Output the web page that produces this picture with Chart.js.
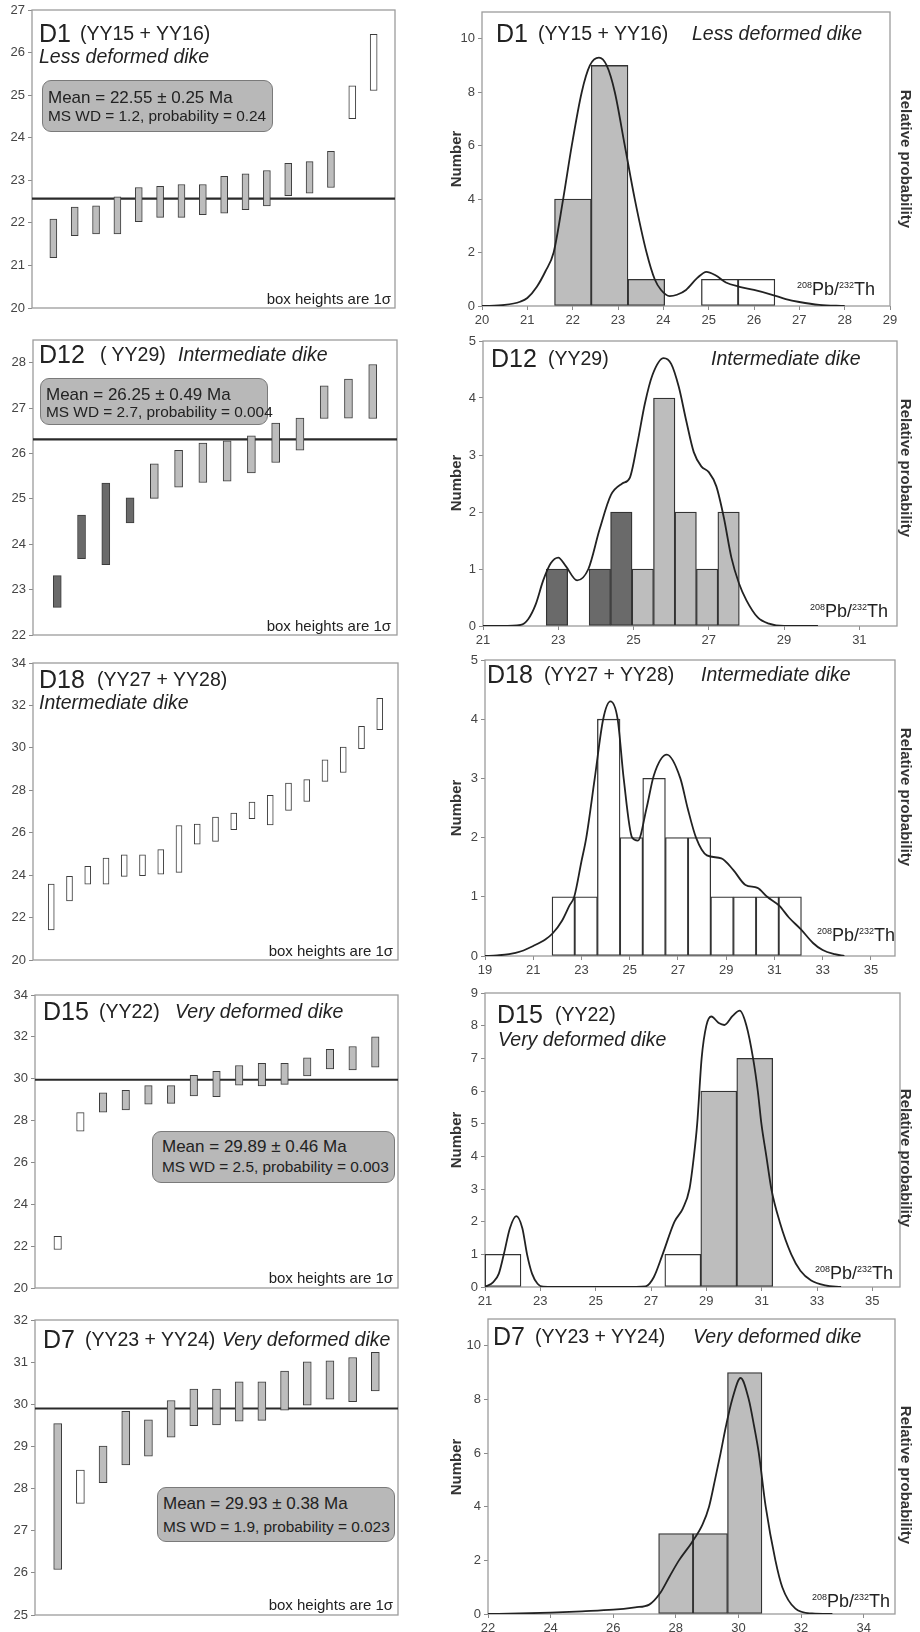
<!DOCTYPE html>
<html>
<head>
<meta charset="utf-8">
<script src="https://cdn.jsdelivr.net/npm/chart.js@4.4.1/dist/chart.umd.min.js"></script>
<style>
  body { margin: 0; background: #fff; }
  #page { position: relative; width: 920px; height: 1632px; overflow: hidden;
          font-family: "Liberation Sans", Arial, sans-serif; color: #222; }
  canvas { position: absolute; }
  .t { position: absolute; white-space: nowrap; line-height: 1; }
  .box { position: absolute; background: #b8b8b8; border: 1.5px solid #7a7a7a; border-radius: 9px; box-sizing: border-box; }
  .rot { position: absolute; white-space: nowrap; line-height: 1; font-weight: bold; font-size: 15px; color: #333; }
  sup { font-size: 0.5em; vertical-align: 0; position: relative; top: -0.8em; }
</style>
</head>
<body>
<div id="page"></div>
<script>
// ---------- left column: 1-sigma age boxes (Ma), sorted ----------
const d1Ages = [[21.18,22.09],[21.7,22.37],[21.74,22.4],[21.74,22.61],[22.03,22.83],[22.13,22.86],[22.13,22.9],[22.19,22.9],
                [22.23,23.09],[22.31,23.15],[22.4,23.23],[22.64,23.4],[22.7,23.44],[22.83,23.68],[24.45,25.22],[25.11,26.43]];
const d1Fill = ['g','g','g','g','g','g','g','g','g','g','g','g','g','g','w','w'];
const d1Mean = 22.57;
const d1YTicks = [20,21,22,23,24,25,26,27];

const d12Ages = [[22.61,23.31],[23.68,24.64],[23.55,25.35],[24.47,25.02],[25.01,25.77],[25.26,26.07],[25.36,26.23],
                 [25.39,26.28],[25.57,26.39],[25.8,26.67],[26.07,26.78],[26.77,27.49],[26.78,27.64],[26.77,27.96]];
const d12Fill = ['d','d','d','d','g','g','g','g','g','g','g','g','g','g'];
const d12Mean = 26.31;
const d12YTicks = [22,23,24,25,26,27,28];

const d18Ages = [[21.42,23.58],[22.79,23.94],[23.58,24.41],[23.58,24.8],[23.94,24.96],[23.97,24.96],[24.05,25.2],[24.13,26.34],
                 [25.46,26.41],[25.59,26.74],[26.14,26.92],[26.66,27.44],[26.37,27.76],[27.05,28.34],[27.47,28.5],
                 [28.42,29.44],[28.84,30.04],[29.96,31.01],[30.86,32.33]];
const d18Fill = d18Ages.map(() => 'w');
const d18YTicks = [20,22,24,26,28,30,32,34];

const d15Ages = [[21.84,22.47],[27.49,28.38],[28.4,29.33],[28.51,29.45],[28.78,29.67],[28.82,29.67],[29.18,30.16],[29.14,30.35],
                 [29.69,30.63],[29.65,30.74],[29.73,30.74],[30.13,31.0],[30.47,31.41],[30.42,31.54],[30.55,32.0]];
const d15Fill = ['w','w','g','g','g','g','g','g','g','g','g','g','g','g','g'];
const d15Mean = 29.95;
const d15YTicks = [20,22,24,26,28,30,32,34];

const d7Ages = [[26.08,29.54],[27.65,28.44],[28.14,29.01],[28.56,29.83],[28.77,29.63],[29.22,30.09],[29.49,30.36],[29.51,30.36],
                [29.6,30.53],[29.62,30.53],[29.86,30.79],[29.98,31.01],[30.12,31.03],[30.06,31.11],[30.32,31.23]];
const d7Fill = ['g','w','g','g','g','g','g','g','g','g','g','g','g','g','g'];
const d7Mean = 29.9;
const d7YTicks = [25,26,27,28,29,30,31,32];

// ---------- right column: histograms (bin edges, counts) + probability curves ----------
const h1Edges = [21.6,22.41,23.22,24.03,24.84,25.65,26.46];
const h1Counts = [4,9,1,0,1,1];
const h1Fill = ['g','g','g','g','w','w'];
const h1CurveX = [20,20.5,20.84,21,21.21,21.4,21.58,21.79,21.98,22.2,22.38,22.58,22.75,22.93,23.15,23.37,23.63,23.81,23.95,
                  24.14,24.3,24.5,24.75,24.95,25.15,25.38,25.68,26,26.4,26.7,27,27.44,28];
const h1CurveY = [0,0.04,0.16,0.3,0.72,1.3,2,4,6,8,9,9.29,9,8,6,4,2,1,0.6,
                  0.37,0.42,0.6,1.05,1.28,1.15,0.88,0.72,0.6,0.42,0.26,0.15,0.04,0];
const h1XTicks = [20,21,22,23,24,25,26,27,28,29];
const h1YTicks = [0,2,4,6,8,10];

const h12Edges = [22.68,23.25,23.82,24.39,24.96,25.53,26.1,26.67,27.24,27.81];
const h12Counts = [1,0,1,2,1,4,2,1,2];
const h12Fill = ['d','d','d','d','g','g','g','g','g'];
const h12CurveX = [21,21.5,22,22.2,22.4,22.6,22.8,23,23.2,23.5,23.8,24.1,24.4,24.7,24.9,25.1,25.3,25.5,25.8,26,26.2,26.4,
                   26.6,26.8,27,27.2,27.4,27.6,27.8,28,28.3,28.6,29,29.9];
const h12CurveY = [0,0,0.02,0.12,0.38,0.8,1.1,1.2,1.05,0.8,1,1.7,2.3,2.5,2.6,3.2,3.9,4.4,4.7,4.6,4.2,3.6,
                   3.05,2.8,2.7,2.45,1.9,1.2,0.75,0.45,0.15,0.04,0,0];
const h12XTicks = [21,23,25,27,29,31];
const h12YTicks = [0,1,2,3,4,5];

const h18Edges = [21.78,22.72,23.66,24.6,25.54,26.48,27.42,28.36,29.3,30.24,31.18,32.12];
const h18Counts = [1,1,4,2,3,2,2,1,1,1,1];
const h18Fill = h18Counts.map(() => 'w');
const h18CurveX = [19,19.5,20,20.5,21,21.5,21.8,22.2,22.5,22.7,23,23.2,23.55,23.9,24.2,24.5,24.75,25.1,25.34,25.7,26,26.54,
                   27.1,27.4,27.75,28.2,28.8,29.3,29.8,30.3,30.7,31.2,31.6,32.1,32.6,33,33.5,33.9];
const h18CurveY = [0,0.01,0.03,0.08,0.17,0.28,0.38,0.6,0.85,1,1.6,2,3,4,4.3,4,3,2,1.95,2.5,3.05,3.4,
                   3,2.5,2,1.7,1.65,1.45,1.2,1.15,1,0.85,0.65,0.45,0.22,0.1,0.03,0];
const h18XTicks = [19,21,23,25,27,29,31,33,35];
const h18YTicks = [0,1,2,3,4,5];

const h15Edges = [21,22.3,23.6,24.9,26.2,27.5,28.8,30.1,31.4];
const h15Counts = [1,0,0,0,0,1,6,7];
const h15Fill = ['w','w','w','w','w','w','g','g'];
const h15CurveX = [21,21.3,21.5,21.68,21.9,22.13,22.35,22.52,22.7,22.9,23.1,24,25,26,26.8,27.1,27.42,27.85,28.15,28.39,28.55,
                   28.67,28.83,29,29.18,29.45,29.65,29.95,30.21,30.45,30.69,30.86,30.99,31.17,31.35,31.65,32.07,32.4,32.79,33.3,33.87];
const h15CurveY = [0,0.15,0.41,1,1.8,2.17,1.8,1,0.41,0.1,0.01,0,0,0,0.02,0.3,1,2,2.4,3,4,
                   5,7,8,8.28,8.08,8.02,8.3,8.46,8,7,6,5,4,3,2,1,0.5,0.2,0.05,0];
const h15XTicks = [21,23,25,27,29,31,33,35];
const h15YTicks = [0,1,2,3,4,5,6,7,8,9];

const h7Edges = [27.45,28.55,29.65,30.75];
const h7Counts = [3,3,9];
const h7Fill = ['g','g','g'];
const h7CurveX = [22,23,24,25,26,26.7,27.15,27.5,27.8,28.1,28.5,28.85,29.06,29.25,29.43,29.6,29.8,30.07,30.33,30.5,30.65,
                  30.87,31.18,31.4,31.82,32.35,33];
const h7CurveY = [0,0.02,0.05,0.1,0.16,0.25,0.35,0.78,1.4,2,2.65,3.33,4,5,6,7,8,8.8,8,7,6,
                  4,2,1,0.2,0.02,0];
const h7XTicks = [22,24,26,28,30,32,34];
const h7YTicks = [0,2,4,6,8,10];

// ---------- drawing ----------
const FILL = { g: '#bdbdbd', d: '#6a6a6a', w: '#ffffff' };
Chart.defaults.font.family = '"Liberation Sans", Arial, sans-serif';
Chart.defaults.color = '#444';
const page = document.getElementById('page');

const framePlugin = {
  id: 'frame',
  beforeDatasetsDraw(chart) {
    const { ctx, chartArea: a } = chart;
    ctx.save();
    ctx.strokeStyle = '#9c9c9c';
    ctx.lineWidth = 1.3;
    ctx.strokeRect(a.left, a.top, a.right - a.left, a.bottom - a.top);
    ctx.restore();
  }
};

function addCanvas(left, top, w, h) {
  const c = document.createElement('canvas');
  c.width = w; c.height = h;
  c.style.left = left + 'px'; c.style.top = top + 'px';
  c.style.width = w + 'px'; c.style.height = h + 'px';
  page.appendChild(c);
  return c;
}

function tickAxis(values, extra) {
  return Object.assign({
    offset: false,
    afterBuildTicks: s => { s.ticks = values.map(v => ({ value: v })); },
    ticks: { font: { size: 13 }, padding: 3, autoSkip: false, maxRotation: 0, color: '#444' },
    grid: { drawOnChartArea: false, tickLength: 4, color: '#8a8a8a', offset: false },
    border: { display: false }
  }, extra);
}

function ageChart(g, ages, fills, mean, yMin, yMax, yTicks, barW) {
  const pad = 12;
  const c = addCanvas(0, g.top - pad, 400, g.bottom - g.top + 2 * pad);
  const n = ages.length;
  const datasets = [{
    type: 'bar',
    data: ages.map((r, i) => ({ x: i + 1, y: r })),
    backgroundColor: fills.map(f => FILL[f]),
    borderColor: '#3c3c3c', borderWidth: 1, borderSkipped: false,
    barThickness: barW, order: 1
  }];
  if (mean != null) {
    datasets.push({
      type: 'line', data: [{ x: 0, y: mean }, { x: n + 1, y: mean }],
      borderColor: '#2a2a2a', borderWidth: 2.2, pointRadius: 0, order: 2
    });
  }
  new Chart(c, {
    type: 'bar',
    data: { datasets },
    options: {
      responsive: false, animation: false, events: [],
      layout: { padding: { top: pad, bottom: pad, left: 0, right: 400 - g.right } },
      plugins: { legend: { display: false }, tooltip: { enabled: false } },
      scales: {
        x: { type: 'linear', min: 0, max: n + 1, offset: false, display: false },
        y: tickAxis(yTicks, { min: yMin, max: yMax, afterFit: s => { s.width = g.left; } })
      }
    },
    plugins: [framePlugin]
  });
}

function histChart(g, edges, counts, fills, cx, cy, xMin, xMax, xTicks, yMax, yTicks) {
  const pad = 12, axisH = 22;
  const c = addCanvas(420, g.top - pad, 500, g.bottom - g.top + pad + axisH);
  new Chart(c, {
    type: 'bar',
    data: {
      datasets: [{
        type: 'line',
        data: cx.map((x, i) => ({ x, y: cy[i] })),
        borderColor: '#222', borderWidth: 1.8, pointRadius: 0,
        cubicInterpolationMode: 'monotone', order: 0
      }, {
        type: 'bar',
        data: counts.map((v, i) => ({ x: (edges[i] + edges[i + 1]) / 2, y: v > 0 ? v : null })),
        backgroundColor: fills.map(f => FILL[f]),
        borderColor: '#333', borderWidth: 1.3, borderSkipped: false,
        barPercentage: 1, categoryPercentage: 1, clip: false, order: 1
      }]
    },
    options: {
      responsive: false, animation: false, events: [],
      layout: { padding: { top: pad, bottom: 0, left: 0, right: 500 - (g.right - 420) } },
      plugins: { legend: { display: false }, tooltip: { enabled: false } },
      scales: {
        x: tickAxis(xTicks, { type: 'linear', min: xMin, max: xMax, afterFit: s => { s.height = axisH; } }),
        y: tickAxis(yTicks, { min: 0, max: yMax, afterFit: s => { s.width = g.left - 420; } })
      }
    },
    plugins: [framePlugin]
  });
}

function txt(html, x, base, size, extra) {
  const d = document.createElement('div');
  d.className = 't';
  d.innerHTML = html;
  d.style.left = x + 'px';
  d.style.top = (base - 0.85 * size) + 'px';
  d.style.fontSize = size + 'px';
  if (extra) Object.assign(d.style, extra);
  page.appendChild(d);
  return d;
}
function txtR(html, right, base, size, extra) {
  return txt(html, 0, base, size, Object.assign({ left: 'auto', right: (920 - right) + 'px' }, extra));
}
function rot(text, cx, cy, deg) {
  const d = document.createElement('div');
  d.className = 'rot';
  d.textContent = text;
  d.style.left = cx + 'px'; d.style.top = cy + 'px';
  d.style.transform = 'translate(-50%,-50%) rotate(' + deg + 'deg)';
  page.appendChild(d);
}
function meanBox(x1, y1, x2, y2, l1, l2, tx, b1, b2) {
  const d = document.createElement('div');
  d.className = 'box';
  Object.assign(d.style, { left: x1 + 'px', top: y1 + 'px', width: (x2 - x1) + 'px', height: (y2 - y1) + 'px' });
  page.appendChild(d);
  txt(l1, tx, b1, 17);
  txt(l2, tx, b2, 15.4);
}
const IT = { fontStyle: 'italic' };
const PB = '<sup>208</sup>Pb/<sup>232</sup>Th';
const SUB = 19.5, BIG = 25;

// left column
ageChart({ left: 32, right: 395, top: 10, bottom: 308 }, d1Ages, d1Fill, d1Mean, 20, 27, d1YTicks, 7);
ageChart({ left: 33, right: 397, top: 340, bottom: 635 }, d12Ages, d12Fill, d12Mean, 22, 28.5, d12YTicks, 8);
ageChart({ left: 33, right: 398, top: 663, bottom: 960 }, d18Ages, d18Fill, null, 20, 34, d18YTicks, 6);
ageChart({ left: 35, right: 398, top: 995, bottom: 1288 }, d15Ages, d15Fill, d15Mean, 20, 34, d15YTicks, 7.5);
ageChart({ left: 35, right: 398, top: 1320, bottom: 1615 }, d7Ages, d7Fill, d7Mean, 25, 32, d7YTicks, 8);

// right column
histChart({ left: 482, right: 890, top: 12, bottom: 306 }, h1Edges, h1Counts, h1Fill, h1CurveX, h1CurveY, 20, 29, h1XTicks, 11, h1YTicks);
histChart({ left: 483, right: 897, top: 341, bottom: 626 }, h12Edges, h12Counts, h12Fill, h12CurveX, h12CurveY, 21, 32, h12XTicks, 5, h12YTicks);
histChart({ left: 485, right: 895, top: 660, bottom: 956 }, h18Edges, h18Counts, h18Fill, h18CurveX, h18CurveY, 19, 36, h18XTicks, 5, h18YTicks);
histChart({ left: 485, right: 900, top: 993, bottom: 1287 }, h15Edges, h15Counts, h15Fill, h15CurveX, h15CurveY, 21, 36, h15XTicks, 9, h15YTicks);
histChart({ left: 488, right: 895, top: 1319, bottom: 1614 }, h7Edges, h7Counts, h7Fill, h7CurveX, h7CurveY, 22, 35, h7XTicks, 11, h7YTicks);

// left column text
txt('D1', 39, 42, BIG); txt('(YY15 + YY16)', 80, 41, SUB); txt('Less deformed dike', 39, 64, SUB, IT);
meanBox(42, 80, 273, 132, 'Mean = 22.55 ± 0.25 Ma', 'MS WD = 1.2, probability = 0.24', 48, 103, 121);
txtR('box heights are 1σ', 391, 304, 15);

txt('D12', 39, 363, BIG); txt('( YY29)', 100, 362, SUB); txt('Intermediate dike', 178, 362, SUB, IT);
meanBox(40, 378, 268, 425, 'Mean = 26.25 ± 0.49 Ma', 'MS WD = 2.7, probability = 0.004', 46, 400, 417);
txtR('box heights are 1σ', 391, 631, 15);

txt('D18', 39, 688, BIG); txt('(YY27 + YY28)', 97, 687, SUB); txt('Intermediate dike', 39, 710, SUB, IT);
txtR('box heights are 1σ', 393, 956, 15);

txt('D15', 43, 1020, BIG); txt('(YY22)', 99, 1019, SUB); txt('Very deformed dike', 175, 1019, SUB, IT);
meanBox(152, 1131, 395, 1183, 'Mean = 29.89 ± 0.46 Ma', 'MS WD = 2.5, probability = 0.003', 162, 1152, 1172);
txtR('box heights are 1σ', 393, 1283, 15);

txt('D7', 43, 1348, BIG); txt('(YY23 + YY24)', 85, 1347, SUB); txt('Very deformed dike', 222, 1347, SUB, IT);
meanBox(157, 1487, 395, 1542, 'Mean = 29.93 ± 0.38 Ma', 'MS WD = 1.9, probability = 0.023', 163, 1509, 1532);
txtR('box heights are 1σ', 393, 1610, 15);

// right column text
txt('D1', 496, 42, BIG); txt('(YY15 + YY16)', 538, 41, SUB); txt('Less deformed dike', 692, 41, SUB, IT);
txtR(PB, 875, 295, 18);
txt('D12', 491, 367, BIG); txt('(YY29)', 548, 366, SUB); txt('Intermediate dike', 711, 366, SUB, IT);
txtR(PB, 888, 617, 18);
txt('D18', 487, 683, BIG); txt('(YY27 + YY28)', 544, 682, SUB); txt('Intermediate dike', 701, 682, SUB, IT);
txtR(PB, 895, 941, 18);
txt('D15', 497, 1023, BIG); txt('(YY22)', 555, 1022, SUB); txt('Very deformed dike', 498, 1047, SUB, IT);
txtR(PB, 893, 1279, 18);
txt('D7', 493, 1345, BIG); txt('(YY23 + YY24)', 535, 1344, SUB); txt('Very deformed dike', 693, 1344, SUB, IT);
txtR(PB, 890, 1607, 18);

[[159, 159], [483, 468], [808, 797], [1140, 1158], [1467, 1475]].forEach(([yn, yr]) => {
  rot('Number', 455, yn, -90);
  rot('Relative probability', 906, yr, 90);
});
</script>
</body>
</html>
